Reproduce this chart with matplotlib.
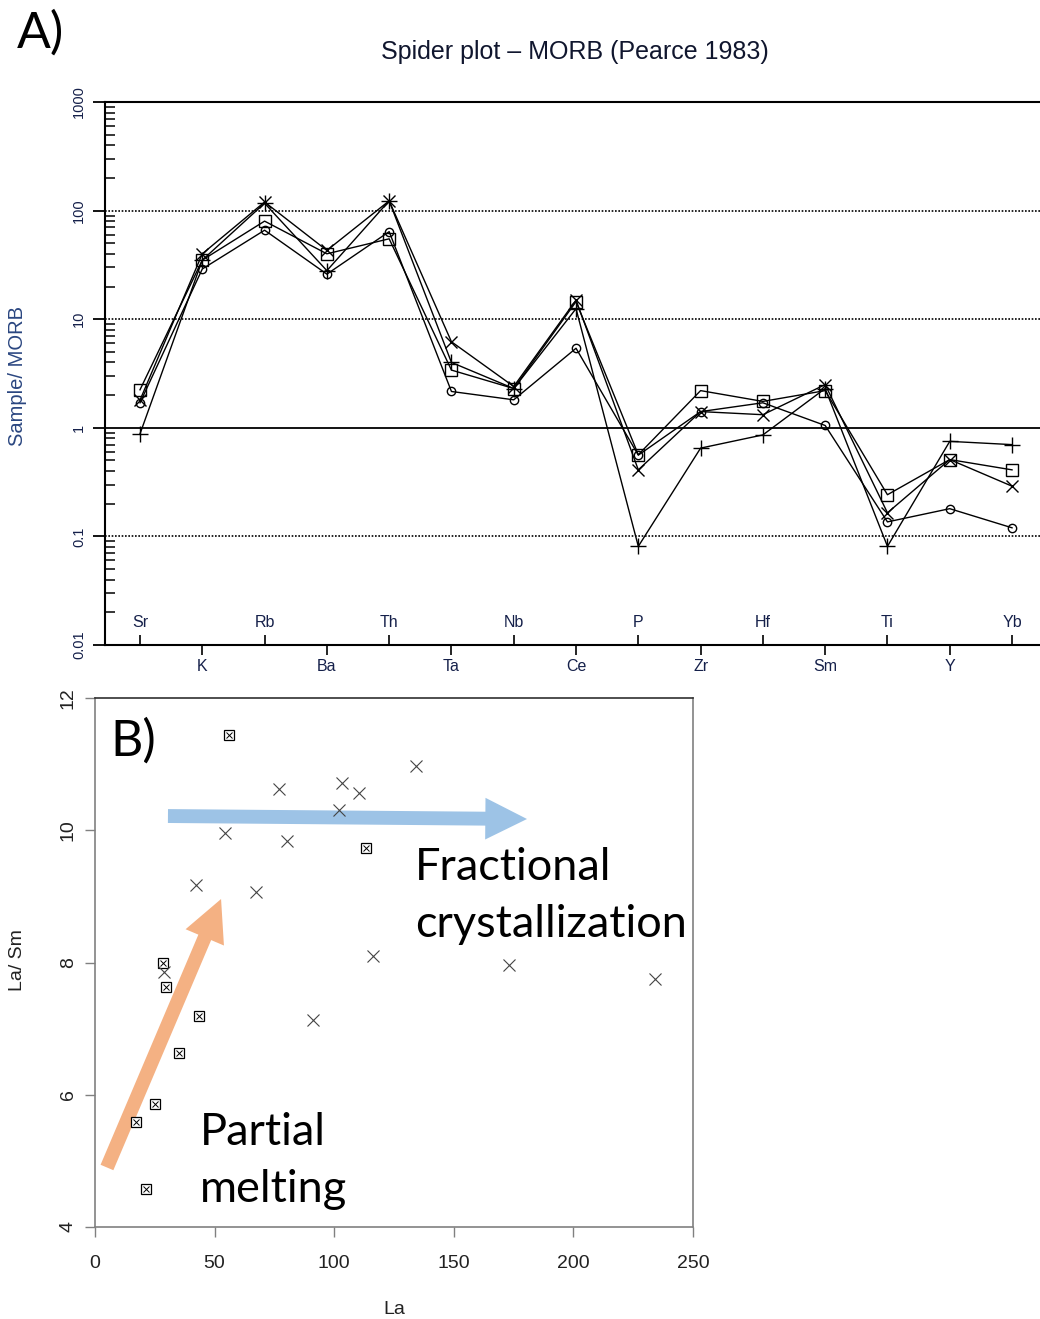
import matplotlib
matplotlib.use('Agg')
import matplotlib.pyplot as plt
import numpy as np
from matplotlib.ticker import FixedLocator, NullFormatter

# ---------------- data: spider plot (Sample / MORB) ----------------
elements = ['Sr', 'K', 'Rb', 'Ba', 'Th', 'Ta', 'Nb', 'Ce', 'P', 'Zr', 'Hf', 'Sm', 'Ti', 'Y', 'Yb']
s_plus = [0.88, 35, 117, 28, 123, 4.0, 2.3, 12.5, 0.081, 0.65, 0.86, 2.3, 0.081, 0.75, 0.70]
s_cross = [1.8, 40, 120, 43, 123, 6.2, 2.4, 15, 0.41, 1.41, 1.32, 2.5, 0.165, 0.51, 0.29]
s_square = [2.24, 35, 80, 40, 55, 3.4, 2.3, 14.5, 0.565, 2.2, 1.75, 2.2, 0.242, 0.51, 0.41]
s_circle = [1.7, 29, 66, 26, 64, 2.16, 1.81, 5.4, 0.56, 1.41, 1.7, 1.05, 0.136, 0.18, 0.12]
y_ticks_top = [0.01, 0.1, 1, 10, 100, 1000]
y_ticklabels_top = ['0.01', '0.1', '1', '10', '100', '1000']

# ---------------- data: La vs La/Sm ----------------
la_box = [55.9, 113.2, 28.6, 29.7, 43.6, 35.2, 25.0, 17.0, 21.4]
lasm_box = [11.44, 9.73, 8.00, 7.63, 7.19, 6.63, 5.86, 5.59, 4.57]
la_x = [77.0, 103.1, 110.2, 102.1, 54.3, 80.1, 42.3, 67.4, 116.3, 28.7, 91.0, 134.2, 173.2, 234.1]
lasm_x = [10.63, 10.72, 10.57, 10.30, 9.96, 9.84, 9.17, 9.06, 8.10, 7.85, 7.13, 10.97, 7.96, 7.75]
x_ticks_bottom = [0, 50, 100, 150, 200, 250]
y_ticks_bottom = [4, 6, 8, 10, 12]

W, H = 1040, 1319
fig = plt.figure(figsize=(W / 100, H / 100), dpi=100)


def fx(px):
    return px / W


def fy(py):
    return 1 - py / H


SANS = ['Liberation Sans', 'DejaVu Sans']
NAVY = '#15204a'
LBL = '#2a4680'
CAL = ['Lato', 'DejaVu Sans']
NARROW = ['Liberation Sans Narrow', 'Liberation Sans', 'DejaVu Sans']

# ================= Panel A =================
ax = fig.add_axes([fx(105), fy(645), 1 - fx(105), (645 - 102) / H])
xi = np.arange(len(elements))
for vals, mk, ms in [(s_plus, '+', 12), (s_cross, 'x', 8.5), (s_square, 's', 8), (s_circle, 'o', 6)]:
    ax.plot(xi, vals, color='black', lw=1.0, marker=mk, ms=ms, mfc='none',
            mec='black', mew=1.0, zorder=3)

ax.set_yscale('log')
ax.set_ylim(0.01, 1000)
ax.set_xlim(-0.562, 14.449)
for v in [100, 10, 0.1]:
    ax.axhline(v, color='black', lw=1.2, ls=(0, (1, 1)), zorder=1)
ax.axhline(1, color='black', lw=1.3, zorder=1)

ax.spines['right'].set_visible(False)
for s in ['top', 'left', 'bottom']:
    ax.spines[s].set_linewidth(1.5)
    ax.spines[s].set_color('black')

ax.yaxis.set_major_locator(FixedLocator(y_ticks_top))
ax.set_yticklabels(y_ticklabels_top, rotation=90, va='center', fontsize=10.5,
                   color=NAVY, family=SANS)
minor = [m * 10.0 ** e for e in range(-2, 3) for m in range(2, 10)]
ax.yaxis.set_minor_locator(FixedLocator(minor))
ax.yaxis.set_minor_formatter(NullFormatter())
ax.tick_params(axis='y', which='major', direction='out', length=8.6, width=1.3, pad=5)
ax.tick_params(axis='y', which='minor', direction='in', length=7, width=1.1)

odd = xi[1::2]
even = xi[0::2]
ax.set_xticks(odd)
ax.set_xticklabels([elements[i] for i in odd], fontsize=11.5, color=NAVY, family=SANS)
ax.set_xticks(even, minor=True)
ax.xaxis.set_minor_formatter(NullFormatter())
ax.tick_params(axis='x', which='major', direction='out', length=7, width=1.2, pad=3)
ax.tick_params(axis='x', which='minor', direction='in', length=7, width=1.2)
for i in even:
    ax.text(i, 0.042, elements[i], transform=ax.get_xaxis_transform(), ha='center',
            va='center', fontsize=11.5, color=NAVY, family=SANS)

fig.text(fx(575), fy(52), 'Spider plot \u2013 MORB (Pearce 1983)', ha='center', va='center',
         fontsize=18, color='#10162e', family=SANS)
fig.text(fx(18), fy(376), 'Sample/ MORB', rotation=90, ha='center', va='center',
         fontsize=14.5, color=LBL, family=SANS)
fig.text(fx(17), fy(48), 'A)', ha='left', va='baseline', fontsize=36, color='black', family=CAL)

# ================= Panel B =================
ax2 = fig.add_axes([fx(95), fy(1227), 598 / W, 529 / H])
ax2.set_xlim(0, 250)
ax2.set_ylim(4, 12)

ax2.annotate('', xy=(180.6, 10.17), xytext=(30.5, 10.215),
             arrowprops=dict(arrowstyle='simple,head_width=3,head_length=3,tail_width=1',
                             mutation_scale=10, color='#9DC3E6', lw=0,
                             shrinkA=0, shrinkB=0), zorder=1)
ax2.annotate('', xy=(52.7, 8.96), xytext=(5.0, 4.90),
             arrowprops=dict(arrowstyle='simple,head_width=3,head_length=3,tail_width=1',
                             mutation_scale=10, color='#F4B183', lw=0,
                             shrinkA=0, shrinkB=0), zorder=1)

ax2.plot(la_box, lasm_box, ls='none', marker='s', ms=7, mfc='white', mec='black', mew=0.9, zorder=3)
ax2.plot(la_box, lasm_box, ls='none', marker='x', ms=4.5, mec='black', mew=0.7, zorder=4)
ax2.plot(la_x, lasm_x, ls='none', marker='x', ms=8.5, mec='#444444', mew=0.8, zorder=3)

for s in ['left', 'bottom']:
    ax2.spines[s].set_color('#808080')
    ax2.spines[s].set_linewidth(1.2)
ax2.spines['top'].set_color('#303030')
ax2.spines['right'].set_color('#808080')
ax2.spines['top'].set_linewidth(1.2)
ax2.spines['right'].set_linewidth(1.2)

ax2.set_xticks(x_ticks_bottom)
ax2.set_xticklabels([str(v) for v in x_ticks_bottom], fontsize=14, color='#222222',
                    family=NARROW)
ax2.set_yticks(y_ticks_bottom)
ax2.set_yticklabels([str(v) for v in y_ticks_bottom], rotation=90, va='center', fontsize=14,
                    color='#222222', family=NARROW)
ax2.tick_params(axis='both', direction='out', length=7, width=1, color='#808080')
ax2.tick_params(axis='x', pad=13)
ax2.tick_params(axis='y', pad=6)

fig.text(fx(394), fy(1310), 'La', ha='center', va='center', fontsize=14, color='#222222',
         family=NARROW)
fig.text(fx(18), fy(960), 'La/ Sm', rotation=90, ha='center', va='center', fontsize=14,
         color='#222222', family=NARROW)

fig.text(fx(110), fy(756), 'B)', ha='left', va='baseline', fontsize=36, color='black', family=CAL)
fig.text(fx(415), fy(880), 'Fractional', ha='left', va='baseline', fontsize=32.5, color='black', family=CAL)
fig.text(fx(415), fy(937), 'crystallization', ha='left', va='baseline', fontsize=32.5, color='black', family=CAL)
fig.text(fx(200), fy(1145), 'Partial', ha='left', va='baseline', fontsize=32.5, color='black', family=CAL)
fig.text(fx(200), fy(1202), 'melting', ha='left', va='baseline', fontsize=32.5, color='black', family=CAL)

fig.savefig('out.png', dpi=100)
